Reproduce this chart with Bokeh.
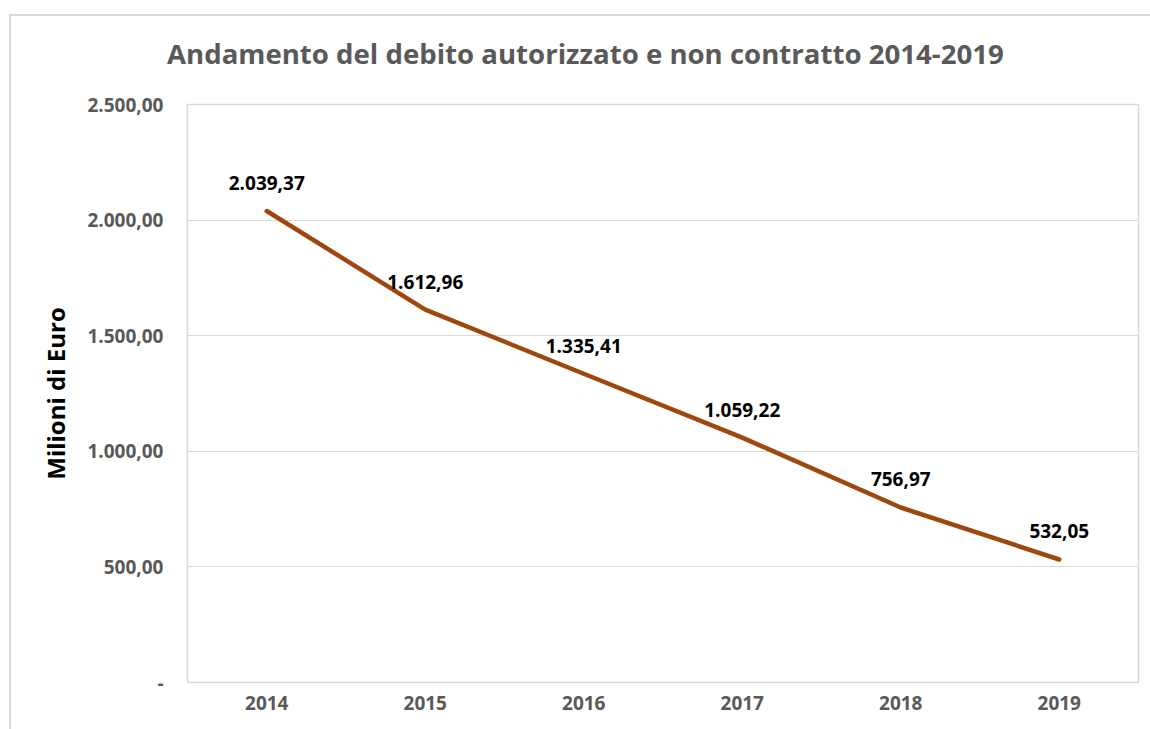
from bokeh.plotting import figure
from bokeh.models import ColumnDataSource, LabelSet, Range1d, FactorRange, FixedTicker, Div
from bokeh.layouts import column
from bokeh.core.properties import value
from bokeh.embed import file_html
from bokeh.resources import INLINE

title_text = "Andamento del debito autorizzato e non contratto 2014-2019"
years = ["2014", "2015", "2016", "2017", "2018", "2019"]
debito = [2039.37, 1612.96, 1335.41, 1059.22, 756.97, 532.05]
debito_labels = ["2.039,37", "1.612,96", "1.335,41", "1.059,22", "756,97", "532,05"]
y_ticks = [0, 500, 1000, 1500, 2000, 2500]
y_tick_labels = ["-", "500,00", "1.000,00", "1.500,00", "2.000,00", "2.500,00"]

FONT = "Open Sans"
GRAY = "#595959"
GRID = "#d9d9d9"

src = ColumnDataSource(dict(x=years, y=debito, lab=debito_labels))

title_div = Div(
    text=('<div style="padding-left:151px;padding-top:13px;font-family:\'Open Sans\';'
          'font-weight:bold;font-size:27.6px;line-height:normal;color:#595959;'
          'white-space:nowrap;">' + title_text + '</div>'),
    width=1139, height=62)

p = figure(width=1139, height=642, x_range=FactorRange(*years, range_padding=0),
           y_range=Range1d(0, 2500), output_backend="svg", toolbar_location=None)
p.min_border_left = 176
p.min_border_right = 12
p.min_border_top = 16
p.min_border_bottom = 48
p.background_fill_color = "white"
p.border_fill_color = "white"
p.outline_line_color = GRID
p.outline_line_width = 1.5

p.line(x="x", y="y", source=src, line_color="#9E480E", line_width=4.5, line_cap="round")

labels = LabelSet(x="x", y="y", text="lab", source=src, y_offset=28,
                  text_align="center", text_baseline="middle",
                  text_font=value(FONT), text_font_style="bold", text_font_size="19px",
                  text_color="black")
p.add_layout(labels)

p.xgrid.grid_line_color = None
p.ygrid.grid_line_color = GRID
p.ygrid.grid_line_width = 1
p.yaxis.ticker = FixedTicker(ticks=y_ticks)
p.yaxis.major_label_overrides = {t: l for t, l in zip(y_ticks, y_tick_labels)}

for ax in (p.xaxis, p.yaxis):
    ax.axis_line_color = None
    ax.major_tick_line_color = None
    ax.minor_tick_line_color = None
    ax.major_tick_out = 0
    ax.major_tick_in = 0
    ax.major_label_text_font = FONT
    ax.major_label_text_font_style = "bold"
    ax.major_label_text_font_size = "19px"
    ax.major_label_text_color = GRAY

p.xaxis.major_label_standoff = 13
p.yaxis.major_label_standoff = 24
p.yaxis.axis_label = "Milioni di Euro"
p.yaxis.axis_label_text_font = FONT
p.yaxis.axis_label_text_font_style = "bold"
p.yaxis.axis_label_text_font_size = "24px"
p.yaxis.axis_label_text_color = "black"
p.yaxis.axis_label_standoff = 12

layout = column(title_div, p, spacing=0)
layout.styles = {"margin-left": "9px", "margin-top": "14px",
                 "border-left": "2px solid #d9d9d9", "border-top": "2px solid #d9d9d9",
                 "background-color": "white"}

open("out.html", "w").write(file_html(layout, INLINE))
